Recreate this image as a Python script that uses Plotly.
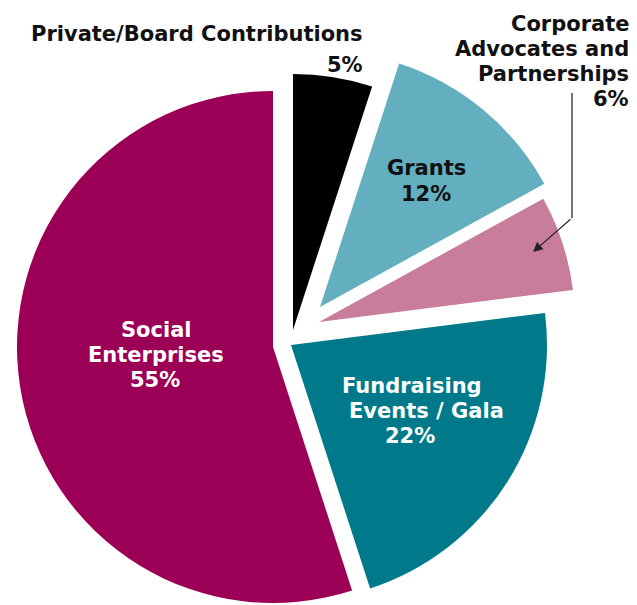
import plotly.graph_objects as go

# ---- data ----
categories = ["Private/Board Contributions", "Grants",
              "Corporate Advocates and Partnerships",
              "Fundraising Events / Gala", "Social Enterprises"]
values = [5, 12, 6, 22, 55]
colors = ["#000000", "#64AFBF", "#C87D9B", "#007A8A", "#9B0056"]

label_lines = {
    "Private/Board Contributions": ["Private/Board Contributions", "5%"],
    "Grants": ["Grants", "12%"],
    "Corporate Advocates and Partnerships": ["Corporate", "Advocates and", "Partnerships", "6%"],
    "Fundraising Events / Gala": ["Fundraising", "Events / Gala", "22%"],
    "Social Enterprises": ["Social", "Enterprises", "55%"],
}

# ---- layout constants (screen pixels) ----
PAGE_MARGIN = 8          # default body margin of the html page
W, H = 637 - PAGE_MARGIN, 605 - PAGE_MARGIN
R = 256
# centre of each exploded slice (its apex), screen px
apex_px = [(293, 330), (320, 307), (319, 322), (291, 345), (273, 347)]

FONT = "DejaVu Sans"
FS = 21

# per-line label placement: (x, baseline y, anchor, colour), screen px
label_pos = {
    "Private/Board Contributions": [(365, 42, "right", "#111"), (365, 73, "right", "#111")],
    "Grants": [(426, 175, "center", "#111"), (426, 201, "center", "#111")],
    "Corporate Advocates and Partnerships": [(631, 32, "right", "#111"), (631, 57, "right", "#111"),
                                              (631, 82, "right", "#111"), (631, 107, "right", "#111")],
    "Fundraising Events / Gala": [(340, 393, "left", "white"), (347, 418, "left", "white"),
                                  (383, 443, "left", "white")],
    "Social Enterprises": [(156, 337, "center", "white"), (156, 363, "center", "white"),
                           (155, 387, "center", "white")],
}


def px(x):
    return (x - PAGE_MARGIN) / W


def py(y):
    return 1 - (y - PAGE_MARGIN) / H


fig = go.Figure()
for i, (cx, cy) in enumerate(apex_px):
    cols = [c if j == i else "rgba(0,0,0,0)" for j, c in enumerate(colors)]
    fig.add_trace(go.Pie(
        labels=categories, values=values, sort=False,
        direction="clockwise", rotation=0,
        marker=dict(colors=cols, line=dict(width=0)),
        textinfo="none", hoverinfo="skip", showlegend=False,
        domain=dict(x=[px(cx - R), px(cx + R)], y=[py(cy + R), py(cy - R)]),
    ))

annotations = []
for cat in categories:
    for text, (x, base, anchor, col) in zip(label_lines[cat], label_pos[cat]):
        annotations.append(dict(
            text=text, x=px(x), y=py(base - 7.5), xref="paper", yref="paper",
            xanchor=anchor, yanchor="middle", showarrow=False,
            font=dict(family=FONT, size=FS, color=col, weight="bold"),
        ))

# arrow pointing to the Corporate slice (tail at 572,218 ; head at 533,252)
annotations.append(dict(
    text="", x=px(533), y=py(252), xref="paper", yref="paper",
    ax=572 - 533, ay=218 - 252, axref="pixel", ayref="pixel",
    showarrow=True, arrowhead=2, arrowsize=1.6, arrowwidth=1.2, arrowcolor="#222",
))

fig.update_layout(
    width=W, height=H, margin=dict(l=0, r=0, t=0, b=0),
    paper_bgcolor="white", plot_bgcolor="white",
    annotations=annotations,
    shapes=[dict(type="line", xref="paper", yref="paper",
                 x0=px(572), y0=py(93), x1=px(572), y1=py(218),
                 line=dict(color="#444", width=1.5))],
)

fig.write_html("out.html")
